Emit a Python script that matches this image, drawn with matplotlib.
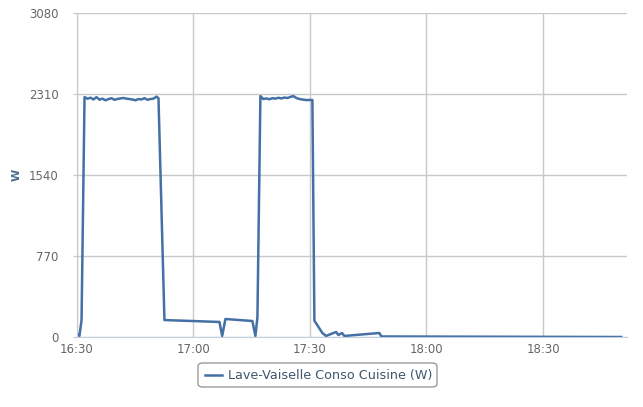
import matplotlib
matplotlib.use("Agg")
import matplotlib.pyplot as plt
import matplotlib.dates as mdates
from matplotlib.patches import FancyBboxPatch
import pandas as pd

DAY = "2024-01-01 "

times = [
    "16:30:15", "16:30:45", "16:31:18",
    "16:32:04", "16:32:50", "16:33:36", "16:34:22", "16:35:08", "16:35:55",
    "16:36:41", "16:37:27", "16:38:14", "16:39:00", "16:39:46", "16:40:32",
    "16:41:19", "16:42:05", "16:42:51", "16:43:37", "16:44:24", "16:45:10",
    "16:45:56", "16:46:42", "16:47:29", "16:48:15", "16:49:01", "16:49:47",
    "16:50:34", "16:51:05",
    "16:52:37", "17:06:46", "17:07:28", "17:08:18", "17:15:14", "17:16:01",
    "17:16:32",
    "17:17:18", "17:18:04", "17:18:51", "17:19:37", "17:20:23", "17:21:09",
    "17:21:56", "17:22:42", "17:23:28", "17:24:14", "17:25:01", "17:25:47",
    "17:26:33", "17:27:20", "17:28:06", "17:28:52", "17:29:38", "17:30:40",
    "17:31:11", "17:33:14", "17:34:11", "17:36:46", "17:37:21", "17:38:18",
    "17:38:53", "17:47:53", "17:48:25", "18:50:06",
]
watts = [
    28, 10, 161,
    2281, 2265, 2275, 2258, 2280, 2256, 2266, 2250, 2262, 2270,
    2255, 2263, 2268, 2272, 2266, 2262, 2258, 2250, 2262, 2258,
    2270, 2255, 2262, 2266, 2285, 2270,
    161, 143, 10, 171, 152, 10,
    190,
    2290, 2262, 2268, 2260, 2270, 2266, 2274, 2268, 2276, 2272,
    2282, 2290, 2272, 2262, 2258, 2253, 2253, 2253,
    155, 38, 10, 48, 19, 38,
    10, 38, 5, 0,
]

x_ticks = ["16:30", "17:00", "17:30", "18:00", "18:30"]
y_ticks = [0, 770, 1540, 2310, 3080]
series_name = "Lave-Vaiselle Conso Cuisine (W)"
y_title = "W"

W, H = 643, 407
fig = plt.figure(figsize=(W / 100, H / 100), dpi=100)
fig.patch.set_facecolor("white")
ax = fig.add_axes([76.5 / W, 1 - 337 / H, (627 - 76.5) / W, (337 - 13) / H])

t = pd.to_datetime([DAY + s for s in times])
ax.plot(t, watts, color="#4570A5", lw=1.8, solid_joinstyle="round")

ax.set_xlim(pd.Timestamp(DAY + "16:30:00"), pd.Timestamp(DAY + "18:51:35"))
ax.set_ylim(0, 3080)
ax.set_yticks(y_ticks)
ax.set_yticklabels([str(v) for v in y_ticks])
ax.set_xticks(pd.to_datetime([DAY + s for s in x_ticks]))
ax.xaxis.set_major_formatter(mdates.DateFormatter("%H:%M"))

ax.grid(True, color="#c8c8c8", lw=1)
ax.set_axisbelow(True)
for s in ["top", "right"]:
    ax.spines[s].set_visible(False)
ax.spines["left"].set_color("#c8c8c8")
ax.spines["bottom"].set_color("#c0d0e0")
ax.tick_params(axis="y", length=3, color="#c8c8c8", pad=10, labelsize=8.5, labelcolor="#666666")
ax.tick_params(axis="x", length=0, pad=4, labelsize=8.5, labelcolor="#666666")

fig.text(17 / W, 1 - 175 / H, y_title, rotation=90, ha="center", va="center",
         fontsize=8, color="#4d6b8f", fontweight="bold")

# legend box
lx0, lx1, ly0, ly1 = 198, 437, 363, 387
box = FancyBboxPatch((lx0 / W, 1 - ly1 / H), (lx1 - lx0) / W, (ly1 - ly0) / H,
                     boxstyle="round,pad=0,rounding_size=0.008",
                     transform=fig.transFigure, facecolor="white",
                     edgecolor="#909090", lw=0.9)
fig.patches.append(box)
fig.lines.append(plt.Line2D([205 / W, 222 / W], [1 - 375 / H, 1 - 375 / H],
                            transform=fig.transFigure, color="#4570A5", lw=1.8))
fig.text(228 / W, 1 - 375 / H, series_name, ha="left", va="center",
         fontsize=9.2, color="#3E576F")

fig.savefig("out.png", dpi=100)
